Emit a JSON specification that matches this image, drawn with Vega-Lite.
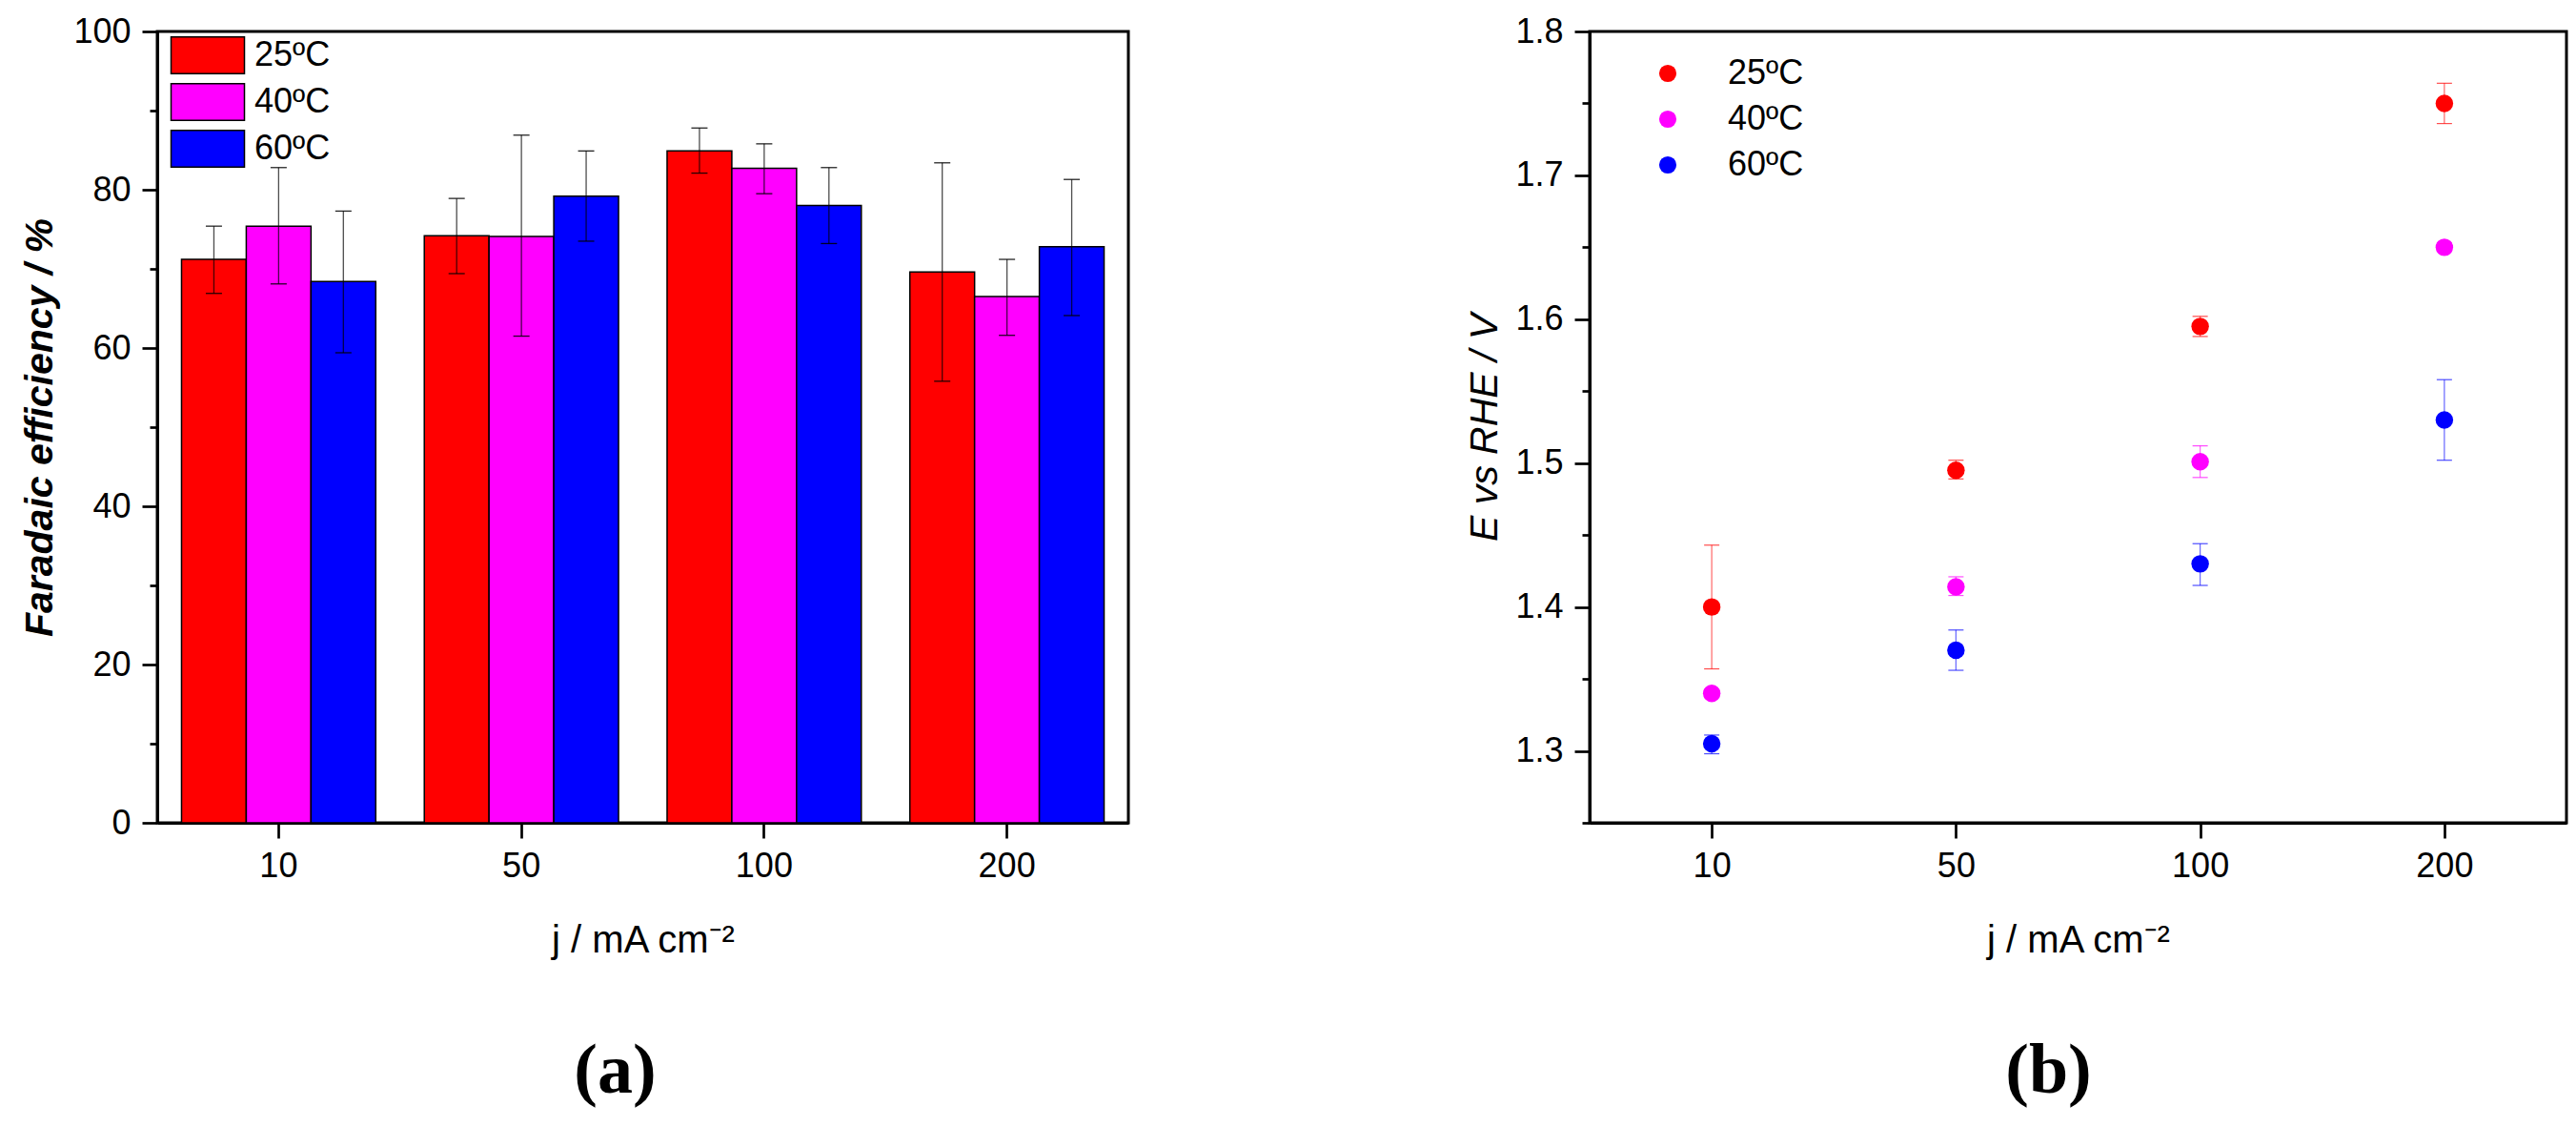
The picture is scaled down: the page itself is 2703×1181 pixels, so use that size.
{
  "$schema": "https://vega.github.io/schema/vega-lite/v6.json",
  "background": "white",
  "padding": {"left": 20, "top": 13, "right": 0, "bottom": 0},
  "spacing": 350,
  "resolve": {"scale": {"color": "independent"}},
  "config": {
    "view": {"stroke": "black", "strokeWidth": 3},
    "axis": {
      "grid": false,
      "domainColor": "black",
      "domainWidth": 3,
      "tickColor": "black",
      "tickWidth": 2.7,
      "tickSize": 16,
      "labelFont": "Liberation Sans",
      "labelFontSize": 36,
      "labelColor": "black",
      "labelPadding": 12,
      "titleFont": "Liberation Sans",
      "titleColor": "black"
    },
    "legend": {
      "labelFont": "Liberation Sans",
      "labelFontSize": 36,
      "labelColor": "black",
      "padding": 0
    }
  },
  "hconcat": [
    {
      "width": 1019,
      "height": 830,
      "title": {"text": "(a)", "orient": "bottom", "font": "Liberation Serif", "fontSize": 74, "fontWeight": "bold", "color": "black", "baseline": "alphabetic", "offset": 140, "dx": -29},
      "data": {
        "values": [
          {"j": "10", "T": "25ºC", "fe": 71.2, "lo": 66.9, "hi": 75.4},
          {"j": "10", "T": "40ºC", "fe": 75.4, "lo": 68.1, "hi": 82.8},
          {"j": "10", "T": "60ºC", "fe": 68.4, "lo": 59.4, "hi": 77.3},
          {"j": "50", "T": "25ºC", "fe": 74.2, "lo": 69.4, "hi": 78.9},
          {"j": "50", "T": "40ºC", "fe": 74.1, "lo": 61.5, "hi": 86.9},
          {"j": "50", "T": "60ºC", "fe": 79.2, "lo": 73.5, "hi": 84.9},
          {"j": "100", "T": "25ºC", "fe": 84.9, "lo": 82.1, "hi": 87.8},
          {"j": "100", "T": "40ºC", "fe": 82.7, "lo": 79.5, "hi": 85.8},
          {"j": "100", "T": "60ºC", "fe": 78.0, "lo": 73.2, "hi": 82.8},
          {"j": "200", "T": "25ºC", "fe": 69.6, "lo": 55.8, "hi": 83.4},
          {"j": "200", "T": "40ºC", "fe": 66.5, "lo": 61.6, "hi": 71.2},
          {"j": "200", "T": "60ºC", "fe": 72.8, "lo": 64.1, "hi": 81.3}
        ]
      },
      "encoding": {
        "x": {
          "field": "j", "type": "nominal", "sort": ["10", "50", "100", "200"],
          "scale": {"paddingInner": 0.2, "paddingOuter": 0.1},
          "axis": {"labelAngle": 0, "title": "j / mA cm⁻²", "titleFontSize": 40, "titleFontWeight": "normal", "titlePadding": 40}
        },
        "xOffset": {
          "field": "T", "type": "nominal", "sort": ["25ºC", "40ºC", "60ºC"],
          "scale": {"paddingInner": 0, "paddingOuter": 0}
        }
      },
      "layer": [
        {
          "mark": {"type": "bar", "stroke": "black", "strokeWidth": 1.5, "opacity": 1},
          "encoding": {
            "y": {
              "field": "fe", "type": "quantitative", "title": "Faradaic efficiency / %",
              "scale": {"domain": [0, 100], "nice": false},
              "axis": {
                "values": [0, 10, 20, 30, 40, 50, 60, 70, 80, 90, 100],
                "tickSize": {"condition": {"test": "datum.value % 20 != 0", "value": 8}, "value": 16},
                "labelExpr": "datum.value % 20 == 0 ? datum.label : ''",
                "titleFontSize": 41, "titleFontStyle": "italic", "titleFontWeight": "bold", "titlePadding": 13
              }
            },
            "color": {
              "field": "T", "type": "nominal",
              "scale": {"domain": ["25ºC", "40ºC", "60ºC"], "range": ["#ff0000", "#ff00ff", "#0000ff"]},
              "legend": {
                "orient": "none", "legendX": 14, "legendY": 5, "title": null,
                "symbolType": "M-2,-1H2V1H-2Z", "symbolSize": 1482,
                "symbolStrokeColor": "black", "symbolStrokeWidth": 1.5, "symbolOpacity": 1,
                "symbolOffset": 19, "labelOffset": 29, "rowPadding": 3
              }
            }
          }
        },
        {
          "mark": {"type": "rule", "color": "black", "strokeWidth": 1.3, "opacity": 0.7},
          "encoding": {
            "y": {"field": "lo", "type": "quantitative", "title": "Faradaic efficiency / %"},
            "y2": {"field": "hi"}
          }
        },
        {
          "mark": {"type": "tick", "color": "black", "thickness": 1.3, "size": 17, "opacity": 0.85},
          "encoding": {"y": {"field": "lo", "type": "quantitative", "title": "Faradaic efficiency / %"}}
        },
        {
          "mark": {"type": "tick", "color": "black", "thickness": 1.3, "size": 17, "opacity": 0.85},
          "encoding": {"y": {"field": "hi", "type": "quantitative", "title": "Faradaic efficiency / %"}}
        }
      ]
    },
    {
      "width": 1025,
      "height": 830,
      "title": {"text": "(b)", "orient": "bottom", "font": "Liberation Serif", "fontSize": 74, "fontWeight": "bold", "color": "black", "baseline": "alphabetic", "offset": 140, "dx": -31},
      "data": {
        "values": [
          {"j": "10", "T": "25ºC", "E": 1.400, "lo": 1.357, "hi": 1.443},
          {"j": "10", "T": "40ºC", "E": 1.340, "lo": 1.337, "hi": 1.343},
          {"j": "10", "T": "60ºC", "E": 1.305, "lo": 1.298, "hi": 1.311},
          {"j": "50", "T": "25ºC", "E": 1.495, "lo": 1.489, "hi": 1.502},
          {"j": "50", "T": "40ºC", "E": 1.414, "lo": 1.408, "hi": 1.421},
          {"j": "50", "T": "60ºC", "E": 1.370, "lo": 1.356, "hi": 1.384},
          {"j": "100", "T": "25ºC", "E": 1.595, "lo": 1.588, "hi": 1.602},
          {"j": "100", "T": "40ºC", "E": 1.501, "lo": 1.490, "hi": 1.512},
          {"j": "100", "T": "60ºC", "E": 1.430, "lo": 1.415, "hi": 1.444},
          {"j": "200", "T": "25ºC", "E": 1.750, "lo": 1.736, "hi": 1.764},
          {"j": "200", "T": "40ºC", "E": 1.650, "lo": 1.647, "hi": 1.653},
          {"j": "200", "T": "60ºC", "E": 1.530, "lo": 1.502, "hi": 1.558}
        ]
      },
      "encoding": {
        "x": {
          "field": "j", "type": "nominal", "sort": ["10", "50", "100", "200"],
          "scale": {"type": "point", "padding": 0.5},
          "axis": {"labelAngle": 0, "title": "j / mA cm⁻²", "titleFontSize": 40, "titleFontWeight": "normal", "titlePadding": 40}
        },
        "color": {
          "field": "T", "type": "nominal",
          "scale": {"domain": ["25ºC", "40ºC", "60ºC"], "range": ["#ff0000", "#ff00ff", "#0000ff"]},
          "legend": {
            "orient": "none", "legendX": 64, "legendY": 26, "title": null,
            "symbolType": "circle", "symbolSize": 330, "symbolStrokeWidth": 0, "symbolOpacity": 1,
            "labelOffset": 45, "rowPadding": 12
          }
        }
      },
      "layer": [
        {
          "mark": {"type": "rule", "strokeWidth": 1.2, "opacity": 0.6},
          "encoding": {
            "y": {"field": "lo", "type": "quantitative", "title": "E vs RHE / V", "scale": {"domain": [1.25, 1.8], "nice": false, "zero": false}},
            "y2": {"field": "hi"}
          }
        },
        {
          "mark": {"type": "tick", "thickness": 1.2, "size": 16, "opacity": 0.7},
          "encoding": {"y": {"field": "lo", "type": "quantitative", "title": "E vs RHE / V"}}
        },
        {
          "mark": {"type": "tick", "thickness": 1.2, "size": 16, "opacity": 0.7},
          "encoding": {"y": {"field": "hi", "type": "quantitative", "title": "E vs RHE / V"}}
        },
        {
          "mark": {"type": "circle", "size": 340, "opacity": 1},
          "encoding": {
            "y": {
              "field": "E", "type": "quantitative", "title": "E vs RHE / V",
              "axis": {
                "values": [1.25, 1.3, 1.35, 1.4, 1.45, 1.5, 1.55, 1.6, 1.65, 1.7, 1.75, 1.8],
                "tickSize": {"condition": {"test": "round(datum.value * 100) % 10 != 0", "value": 8}, "value": 16},
                "labelExpr": "round(datum.value * 100) % 10 == 0 ? format(datum.value, '.1f') : ''",
                "titleFontSize": 41, "titleFontStyle": "italic", "titleFontWeight": "normal", "titlePadding": 10
              }
            }
          }
        }
      ]
    }
  ]
}
